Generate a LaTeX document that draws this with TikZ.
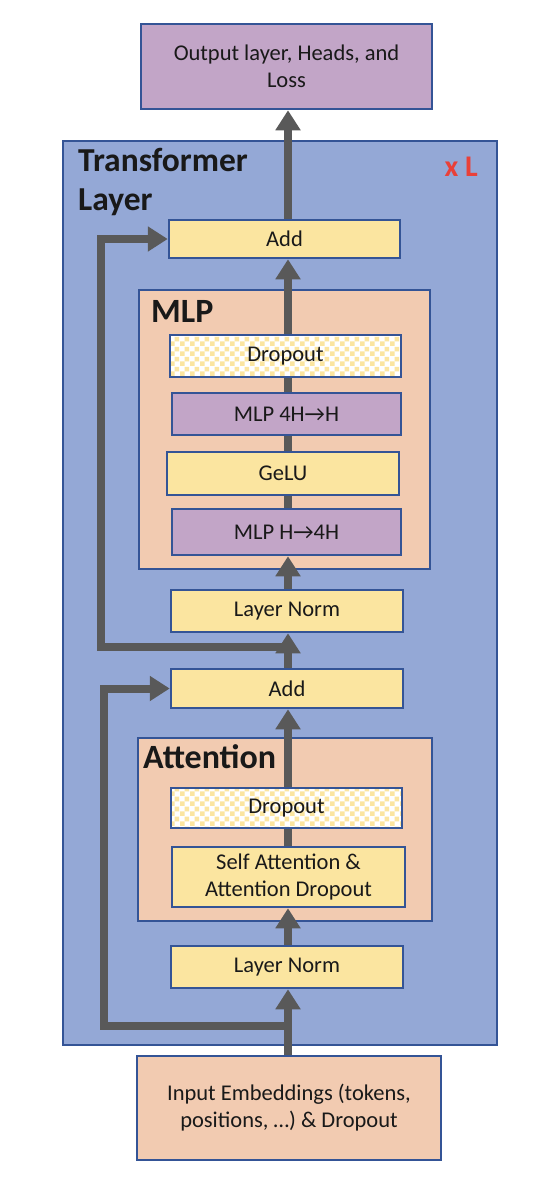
\documentclass[tikz,border=0pt]{standalone}
\usepackage{fontspec}
\setmainfont{Carlito}
\usetikzlibrary{arrows.meta,patterns.meta}
\definecolor{tlblue}{RGB}{148,168,214}
\definecolor{salm}{RGB}{242,203,177}
\definecolor{ylw}{RGB}{251,229,160}
\definecolor{prp}{RGB}{194,165,199}
\definecolor{bord}{RGB}{52,84,150}
\definecolor{gry}{RGB}{89,89,89}
\definecolor{redc}{RGB}{233,64,57}
\definecolor{txt}{RGB}{25,25,25}
\tikzdeclarepattern{
  name=bigcheck,
  type=uncolored,
  bottom left={(0pt,0pt)},
  top right={(10pt,10pt)},
  tile size={(10pt,10pt)},
  code={
    \fill (0pt,0pt) rectangle (5pt,5pt);
    \fill (5pt,5pt) rectangle (10pt,10pt);
  }
}
\begin{document}
\begin{tikzpicture}[x=1pt,y=-1pt,
  box/.style={draw=bord, line width=2.5pt, inner sep=0pt, font=\fontsize{22.5}{27}\selectfont, text=txt, align=center},
  ybox/.style={box, fill=ylw},
  pbox/.style={box, fill=prp},
  sbox/.style={box, fill=salm},
  dbox/.style={box, preaction={fill=white}, pattern={bigcheck}, pattern color=ylw},
  arr/.style={draw=gry, line width=8pt, -{Triangle[width=24pt,length=20pt]}},
  ln/.style={draw=gry, line width=8pt},
  ttl/.style={inner sep=0pt, text=txt, font=\bfseries\fontsize{34}{38}\selectfont},
]
\useasboundingbox (0,0) rectangle (558,1186);
\fill[white] (0,0) rectangle (558,1186);

% containers
\node[box, fill=tlblue, minimum width=434pt, minimum height=904pt] (tl) at (280,593) {};
\node[box, fill=salm, minimum width=291pt, minimum height=279pt] (mlp) at (284.5,429.5) {};
\node[box, fill=salm, minimum width=294pt, minimum height=183pt] (attn) at (285,829.5) {};

% titles
\node[ttl, anchor=north west, align=left, font=\bfseries\fontsize{33.5}{39}\selectfont] (tltitle) at (78,148) {Transformer\\Layer};
\node[inner sep=0pt, anchor=base east, text=redc, font=\bfseries\fontsize{30}{32}\selectfont] (xl) at (478,176) {x L};
\node[ttl, anchor=base west] (mlpt) at (151,322) {MLP};
\node[ttl, anchor=base west] (attnt) at (143,768) {Attention};

% boxes
\node[pbox, minimum width=291pt, minimum height=85pt] (out) at (286.5,66.5) {Output layer, Heads, and\\Loss};
\node[ybox, minimum width=231pt, minimum height=38pt] (add2) at (284.5,239) {Add};
\node[dbox, minimum width=231pt, minimum height=42pt] (drop2) at (285.5,356) {Dropout};
\node[pbox, minimum width=229pt, minimum height=42pt] (mlp2) at (286.5,414) {MLP 4H→H};
\node[ybox, minimum width=232pt, minimum height=43pt] (gelu) at (283,473.5) {GeLU};
\node[pbox, minimum width=229pt, minimum height=46pt] (mlp1) at (286.5,532) {MLP H→4H};
\node[ybox, minimum width=232pt, minimum height=42pt] (ln2) at (287,611) {Layer Norm};
\node[ybox, minimum width=232pt, minimum height=39pt] (add1) at (287,688.5) {Add};
\node[dbox, minimum width=231pt, minimum height=40pt] (drop1) at (286.5,808) {Dropout};
\node[ybox, minimum width=233pt, minimum height=60pt] (sa) at (288.5,877) {Self Attention \&\\Attention Dropout};
\node[ybox, minimum width=232pt, minimum height=42pt] (ln1) at (287,967) {Layer Norm};
\node[sbox, minimum width=304pt, minimum height=104pt] (inp) at (289,1108) {Input Embeddings (tokens,\\positions, …) \& Dropout};

% spine
\coordinate (spine) at (288,0);
\coordinate (lres) at (104,0);
\coordinate (ures) at (101,0);
\coordinate (b1) at (288,1026);
\coordinate (b2) at (288,647);

\draw[arr] (inp.north -| spine) -- (ln1.south -| spine);
\draw[arr] (ln1.north -| spine) -- (sa.south -| spine);
\draw[ln] (sa.north -| spine) -- (drop1.south -| spine);
\draw[arr] (drop1.north -| spine) -- (add1.south -| spine);
\draw[arr] (add1.north -| spine) -- (ln2.south -| spine);
\draw[arr] (ln2.north -| spine) -- (mlp1.south -| spine);
\draw[ln] (mlp1.north -| spine) -- (gelu.south -| spine);
\draw[ln] (gelu.north -| spine) -- (mlp2.south -| spine);
\draw[ln] (mlp2.north -| spine) -- (drop2.south -| spine);
\draw[arr] (drop2.north -| spine) -- (add2.south -| spine);
\draw[arr] (add2.north -| spine) -- (out.south -| spine);

% residuals
\draw[arr] (b1) -| (lres |- add1.west) -- (add1.west);
\draw[arr] (b2) -| (ures |- add2.west) -- (add2.west);
\end{tikzpicture}
\end{document}
